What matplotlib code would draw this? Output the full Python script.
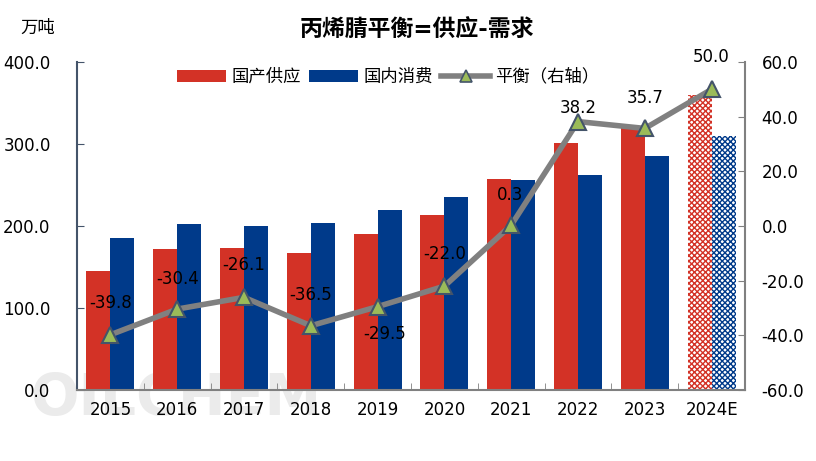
import matplotlib
matplotlib.use("Agg")
import matplotlib.pyplot as plt
import numpy as np
from matplotlib.patches import Patch
from matplotlib.lines import Line2D

plt.rcParams['font.family'] = ['DejaVu Sans', 'Noto Sans CJK SC']
plt.rcParams['hatch.linewidth'] = 1.0

years = ['2015', '2016', '2017', '2018', '2019', '2020', '2021', '2022', '2023', '2024E']
supply = [145, 172, 173, 167, 190, 213, 257, 301, 320, 360]
demand = [185, 202, 200, 204, 220, 235, 256, 262, 285, 310]
balance = [-39.8, -30.4, -26.1, -36.5, -29.5, -22.0, 0.3, 38.2, 35.7, 50.0]
left_ticks = [0, 100, 200, 300, 400]
right_ticks = [-60, -40, -20, 0, 20, 40, 60]

RED = '#D33226'
BLUE = '#003A8A'
GRAY = '#808080'
GREEN = '#9BBB59'
EDGE = '#44546A'
FS = 12

fig = plt.figure(figsize=(8.16, 4.61), dpi=100)
ax = fig.add_axes([77/816, 71/461, 668/816, 328/461])
ax.set_facecolor('none')

# watermark
fig.text(30/816, (461-399)/461, 'OILCHEM', fontsize=41, fontweight='bold',
         color='#ebebeb', va='center', ha='left', zorder=-5, family='DejaVu Sans')

x = np.arange(len(years))
w = 0.36
n = len(years)
for i in range(n):
    if years[i].endswith('E'):
        ax.bar(x[i] - w/2, supply[i], w, facecolor='white', edgecolor=RED, hatch='xxxxxx', linewidth=0)
        ax.bar(x[i] + w/2, demand[i], w, facecolor='white', edgecolor=BLUE, hatch='xxxxxx', linewidth=0)
    else:
        ax.bar(x[i] - w/2, supply[i], w, color=RED, linewidth=0)
        ax.bar(x[i] + w/2, demand[i], w, color=BLUE, linewidth=0)

ax.set_xlim(-0.5, n - 0.5)
ax.set_ylim(0, 400)
ax.set_yticks(left_ticks)
ax.set_yticklabels([f'{v:.1f}' for v in left_ticks], fontsize=FS)
ax.set_xticks(x)
ax.set_xticklabels(years, fontsize=FS)
ax.set_xticks(np.arange(n + 1) - 0.5, minor=True)
ax.tick_params(axis='x', which='major', length=0, pad=8)
ax.tick_params(axis='x', which='minor', length=5, direction='in', color=GRAY)
ax.tick_params(axis='y', length=5, direction='in', color=EDGE, pad=19)
ax.spines['top'].set_visible(False)
ax.spines['right'].set_visible(False)
ax.spines['left'].set_color(EDGE)
ax.spines['left'].set_linewidth(1.5)
ax.spines['bottom'].set_color(GRAY)
ax.spines['bottom'].set_linewidth(1.5)

ax2 = ax.twinx()
ax2.set_ylim(-60, 60)
ax2.set_yticks(right_ticks)
ax2.set_yticklabels([f'{v:.1f}' for v in right_ticks], fontsize=FS)
ax2.tick_params(axis='y', length=5, direction='in', color=GRAY, pad=12)
for s in ['top', 'left', 'bottom']:
    ax2.spines[s].set_visible(False)
ax2.spines['right'].set_color(GRAY)
ax2.spines['right'].set_linewidth(1.5)

ax2.plot(x, balance, color=GRAY, linewidth=4, marker='^', markersize=11,
         markerfacecolor=GREEN, markeredgecolor=EDGE, markeredgewidth=1.5, zorder=5)

offsets = [(0, 23), (0, 22), (0, 23), (0, 22), (5, -20), (0, 23), (-1, 22), (0, 10), (0, 22), (0, 23)]
for i in range(n):
    ax2.annotate(f'{balance[i]:.1f}', (x[i], balance[i]), xytext=offsets[i],
                 textcoords='offset points', ha='center', va='center', fontsize=FS, zorder=6)

handles = [Patch(facecolor=RED, edgecolor='none'), Patch(facecolor=BLUE, edgecolor='none'),
           Line2D([0], [0], color=GRAY, linewidth=4, marker='^', markersize=8,
                  markerfacecolor=GREEN, markeredgecolor=EDGE, markeredgewidth=1.2)]
labels = ['国产供应', '国内消费', '平衡（右轴）']
ax.legend(handles, labels, loc='center', bbox_to_anchor=(0.466, 0.955), ncol=3, frameon=False,
          fontsize=12.5, handlelength=2.8, handleheight=0.7, handletextpad=0.3, columnspacing=0.5)

fig.text(417/816, (461-30)/461, '丙烯腈平衡=供应-需求', fontsize=16.5, fontweight='bold',
         ha='center', va='center')
fig.text(38/816, (461-28)/461, '万吨', fontsize=12.5, ha='center', va='center')

fig.savefig('out.png', dpi=100)
